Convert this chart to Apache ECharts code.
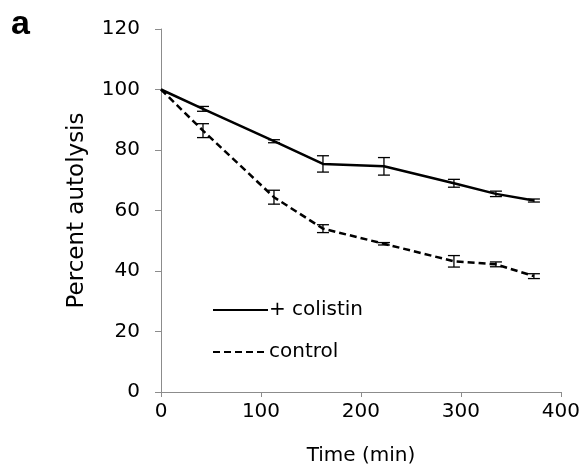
<!DOCTYPE html>
<html>
<head>
<meta charset="utf-8">
<script src="https://cdn.jsdelivr.net/npm/echarts@6/dist/echarts.min.js"></script>
<style>
  html, body { margin: 0; padding: 0; background: #fff; }
  #chart { width: 583px; height: 472px; }
</style>
</head>
<body>
<div id="chart"></div>
<script>
var times = [0, 42, 113, 162, 223, 293, 335, 373];
var colistinMean = [100, 93.6, 82.9, 75.4, 74.6, 69.0, 65.5, 63.3];
var colistinErr = [0, 0.8, 0.5, 2.7, 2.9, 1.3, 0.9, 0.5];
var controlMean = [100, 86.4, 64.4, 54.0, 49.0, 43.2, 42.2, 38.3];
var controlErr = [0, 2.3, 2.3, 1.3, 0.4, 1.9, 0.8, 0.8];

var chartDom = document.getElementById('chart');
var myChart = echarts.init(chartDom);

var font = 'DejaVu Sans';
var axisGrey = '#8c8c8c';

function pairs(xs, ys) {
  return xs.map(function (x, i) { return [x, ys[i]]; });
}

function errData(xs, ys, es) {
  var out = [];
  xs.forEach(function (x, i) {
    if (es[i] > 0) out.push([x, ys[i] - es[i], ys[i] + es[i]]);
  });
  return out;
}

function errorBars(params, api) {
  var lo = api.coord([api.value(0), api.value(1)]);
  var hi = api.coord([api.value(0), api.value(2)]);
  var cap = 6;
  var style = { stroke: '#000', lineWidth: 1.3 };
  return {
    type: 'group',
    children: [
      { type: 'line', shape: { x1: lo[0], y1: lo[1], x2: hi[0], y2: hi[1] }, style: style },
      { type: 'line', shape: { x1: lo[0] - cap, y1: lo[1], x2: lo[0] + cap, y2: lo[1] }, style: style },
      { type: 'line', shape: { x1: hi[0] - cap, y1: hi[1], x2: hi[0] + cap, y2: hi[1] }, style: style }
    ]
  };
}

var option = {
  animation: false,
  title: {
    text: 'a',
    left: 6,
    top: 3,
    textStyle: { fontFamily: 'Liberation Sans', fontWeight: 'bold', fontSize: 34, color: '#000' }
  },
  legend: {
    orient: 'vertical',
    left: 207,
    top: 295,
    itemWidth: 55,
    itemHeight: 14,
    itemGap: 22,
    data: ['+ colistin', 'control'],
    itemStyle: { opacity: 0 },
    textStyle: { fontFamily: font, fontSize: 20, color: '#000', padding: [0, 0, 0, -4] }
  },
  grid: {
    left: 161,
    right: 21,
    top: 29,
    bottom: 80
  },
  xAxis: {
    type: 'value',
    min: 0,
    max: 400,
    interval: 100,
    name: 'Time (min)',
    nameLocation: 'middle',
    nameGap: 54,
    nameTextStyle: { fontFamily: font, fontSize: 20, color: '#000' },
    axisLine: { lineStyle: { color: axisGrey, width: 1 } },
    axisTick: { show: true, length: 5, lineStyle: { color: axisGrey } },
    axisLabel: { margin: 10, fontFamily: font, fontSize: 20, color: '#000' },
    splitLine: { show: false }
  },
  yAxis: {
    type: 'value',
    min: 0,
    max: 120,
    interval: 20,
    name: 'Percent autolysis',
    nameLocation: 'middle',
    nameGap: 72,
    nameTextStyle: { fontFamily: font, fontSize: 23, color: '#000' },
    axisLine: { show: true, lineStyle: { color: axisGrey, width: 1 } },
    axisTick: { show: true, length: 6, lineStyle: { color: axisGrey } },
    axisLabel: { margin: 21, fontFamily: font, fontSize: 20, color: '#000' },
    splitLine: { show: false }
  },
  series: [
    {
      name: '+ colistin',
      type: 'line',
      symbol: 'none',
      data: pairs(times, colistinMean),
      lineStyle: { color: '#000', width: 2.5 },
      itemStyle: { color: '#000' },
      z: 3
    },
    {
      name: 'control',
      type: 'line',
      symbol: 'none',
      data: pairs(times, controlMean),
      lineStyle: { color: '#000', width: 2.5, type: [7, 4] },
      itemStyle: { color: '#000' },
      z: 3
    },
    {
      type: 'custom',
      renderItem: errorBars,
      data: errData(times, colistinMean, colistinErr),
      z: 4
    },
    {
      type: 'custom',
      renderItem: errorBars,
      data: errData(times, controlMean, controlErr),
      z: 4
    }
  ]
};

myChart.setOption(option);
</script>
</body>
</html>
